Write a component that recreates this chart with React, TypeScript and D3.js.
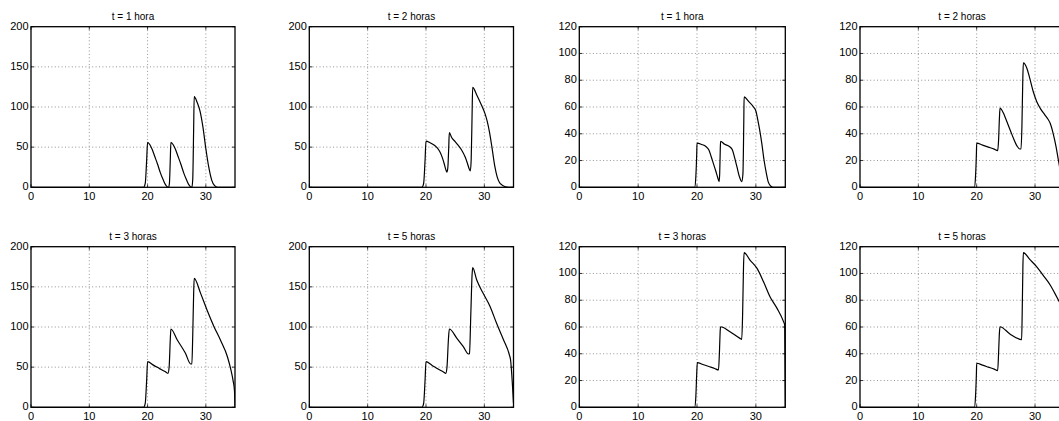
import React from "react";
import * as d3 from "d3";

// ---- Data ----
const xTicks = [0, 10, 20, 30];
const yTicksA = [0, 50, 100, 150, 200];
const yTicksB = [0, 20, 40, 60, 80, 100, 120];
const titles = ["t = 1 hora", "t = 2 horas", "t = 1 hora", "t = 2 horas", "t = 3 horas", "t = 5 horas", "t = 3 horas", "t = 5 horas"];

const seriesA1: [number, number][] = [
  [0, 0], [19.3, 0], [19.6, 5], [19.85, 35], [20, 56], [20.4, 53], [20.8, 47], [21.2, 39], [21.7, 29], [22.2, 18], [22.7, 9], [23.1, 3], [23.4, 0.5], [23.6, 0],
  [23.75, 5], [23.9, 35], [24, 56], [24.4, 53], [24.8, 47], [25.2, 39], [25.7, 29], [26.2, 18], [26.7, 9], [27.1, 3], [27.4, 0.5], [27.6, 0],
  [27.75, 10], [27.9, 70], [28, 113], [28.5, 106], [29, 95], [29.5, 75], [30, 48], [30.5, 25], [31, 9], [31.5, 2], [32, 0], [35, 0],
];
const seriesA2: [number, number][] = [
  [0, 0], [19.3, 0], [19.6, 5], [19.85, 35], [20, 57.5], [20.7, 55.5], [21.5, 52], [22, 48.5], [22.4, 44], [22.8, 37], [23.1, 30], [23.4, 22], [23.6, 19],
  [23.75, 25], [23.9, 50], [24, 68], [24.4, 62], [25, 57], [25.5, 52.5], [26.1, 46.5], [26.7, 38], [27.1, 30], [27.4, 23], [27.6, 20.5],
  [27.75, 35], [27.9, 90], [28, 124.5], [28.7, 115], [29.5, 102.5], [30.1, 92], [30.5, 82], [30.9, 68], [31.3, 50], [31.8, 26], [32.2, 13], [32.6, 6], [33, 3], [33.5, 1], [34.2, 0], [35, 0],
];
const seriesA3: [number, number][] = [
  [0, 0], [19.3, 0], [19.6, 5], [19.85, 35], [20, 56.8], [21, 52.5], [22, 48.5], [23, 44.5], [23.5, 42.3],
  [23.7, 50], [23.9, 85], [24, 97.5], [25.1, 83.8], [26.5, 67.2], [27.4, 53.9], [27.6, 54],
  [27.75, 90], [27.9, 140], [28, 160.6], [29.1, 141.9], [30.2, 121.2], [31.4, 100.4], [32.5, 83.8], [33.7, 63], [34.3, 46.5], [34.7, 32], [34.9, 21.6], [35, 0],
];
const seriesA5: [number, number][] = [
  [0, 0], [19.3, 0], [19.6, 5], [19.85, 35], [20, 56.8], [21, 52.5], [22, 48], [23, 44], [23.4, 42.3],
  [23.6, 50], [23.85, 85], [24, 97.5], [25.3, 85.9], [26.4, 75.5], [27.3, 66.4], [27.45, 67],
  [27.7, 120], [27.9, 165], [28, 173.9], [28.7, 158.5], [29.8, 141.9], [31, 125.3], [32.1, 104.6], [33.3, 83.8], [34.3, 65.1], [34.5, 58.9], [34.8, 30], [35, 5],
];
const seriesB1: [number, number][] = [
  [0, 0], [19.6, 0], [19.8, 8], [19.95, 25], [20, 33], [20.8, 32], [21.5, 30.5], [22, 28], [22.4, 23], [22.8, 17.5], [23.2, 12], [23.5, 7.5], [23.75, 4.3],
  [23.85, 10], [23.95, 28], [24, 34.4], [24.7, 32.1], [25.5, 30.5], [26, 28], [26.4, 22], [26.8, 15], [27.2, 8], [27.6, 4.3],
  [27.8, 10], [27.95, 50], [28, 67.5], [28.8, 64], [29.6, 60], [30, 57], [30.3, 51], [30.6, 44], [31, 33], [31.4, 20], [31.8, 10], [32.1, 4], [32.5, 1], [33, 0], [35, 0],
];
const seriesB2: [number, number][] = [
  [0, 0], [19.6, 0], [19.8, 8], [19.95, 25], [20, 33], [21, 31.5], [22, 30], [23, 28.5], [23.6, 27.4],
  [23.75, 35], [23.9, 52], [24, 59.2], [24.6, 55.3], [25, 51], [25.4, 46.6], [25.9, 41], [26.3, 36.6], [26.9, 31], [27.4, 28.6], [27.6, 28.6],
  [27.75, 45], [27.9, 80], [28, 93], [28.6, 89], [29.1, 81.4], [29.7, 71.4], [30.3, 64], [30.9, 59], [31.7, 54], [32.2, 51], [32.6, 47.8], [33.1, 40.3], [33.6, 30.4], [34, 20.4], [34.4, 11], [34.8, 4], [35, 2],
];
const seriesB3: [number, number][] = [
  [0, 0], [19.6, 0], [19.8, 8], [19.95, 25], [20.05, 33.4], [21, 32], [22, 30.5], [23, 29], [23.65, 27.9],
  [23.8, 40], [23.95, 58], [24, 60.2], [25.6, 56.5], [27.3, 51.5], [27.6, 50.8],
  [27.75, 70], [27.9, 105], [28, 115.5], [29, 110], [30.2, 103.8], [31.3, 93.8], [32.4, 82.6], [33.6, 73.9], [34.7, 64], [34.9, 61.5], [35, 0],
];
const seriesB5: [number, number][] = [
  [0, 0], [19.6, 0], [19.8, 8], [19.95, 25], [20, 32.9], [21, 31.5], [22, 30], [23, 28.5], [23.6, 27.4],
  [23.75, 40], [23.9, 56], [24, 60.2], [25.7, 54.8], [27.4, 50.8], [27.7, 50.5],
  [27.8, 70], [27.92, 105], [28, 115.5], [29.1, 110.5], [30.3, 105], [31.4, 98.6], [32.6, 91.4], [33.4, 85.1], [34, 80.2], [34.5, 76], [35, 71],
];

// ---- Layout ----
const W = 1059;
const H = 421;
const colLeft = [31, 309.3, 579.3, 860];
const colWidth = [204, 204.2, 206, 204.2];
const rowTop = [26.7, 246.7];
const panelH = 160.6;

type PanelDef = { title: string; data: [number, number][]; yMax: number; yTicks: number[]; col: number; row: number };

const panels: PanelDef[] = [
  { title: titles[0], data: seriesA1, yMax: 200, yTicks: yTicksA, col: 0, row: 0 },
  { title: titles[1], data: seriesA2, yMax: 200, yTicks: yTicksA, col: 1, row: 0 },
  { title: titles[2], data: seriesB1, yMax: 120, yTicks: yTicksB, col: 2, row: 0 },
  { title: titles[3], data: seriesB2, yMax: 120, yTicks: yTicksB, col: 3, row: 0 },
  { title: titles[4], data: seriesA3, yMax: 200, yTicks: yTicksA, col: 0, row: 1 },
  { title: titles[5], data: seriesA5, yMax: 200, yTicks: yTicksA, col: 1, row: 1 },
  { title: titles[6], data: seriesB3, yMax: 120, yTicks: yTicksB, col: 2, row: 1 },
  { title: titles[7], data: seriesB5, yMax: 120, yTicks: yTicksB, col: 3, row: 1 },
];

const FONT = "'Liberation Sans', Arial, Helvetica, sans-serif";

function Panel({ p, idx }: { p: PanelDef; idx: number }) {
  const x0 = colLeft[p.col];
  const w = colWidth[p.col];
  const y0 = rowTop[p.row];
  const x = d3.scaleLinear().domain([0, 35]).range([x0, x0 + w]);
  const y = d3.scaleLinear().domain([0, p.yMax]).range([y0 + panelH, y0]);
  const line = d3
    .line<[number, number]>()
    .x((d) => x(d[0]))
    .y((d) => y(d[1]))
    .curve(d3.curveMonotoneX);
  const clipId = `clip-${idx}`;
  const tickLen = 3;
  return (
    <g>
      <defs>
        <clipPath id={clipId}>
          <rect x={x0} y={y0 - 1} width={w} height={panelH + 2} />
        </clipPath>
      </defs>
      <rect x={x0} y={y0} width={w} height={panelH} fill="#fff" />
      {/* grid */}
      {xTicks.filter((t) => t > 0).map((t) => (
        <line key={`gx${t}`} x1={x(t)} x2={x(t)} y1={y0} y2={y0 + panelH} stroke="#666" strokeWidth={0.7} strokeDasharray="1,2.4" />
      ))}
      {p.yTicks.filter((t) => t > 0 && t < p.yMax).map((t) => (
        <line key={`gy${t}`} x1={x0} x2={x0 + w} y1={y(t)} y2={y(t)} stroke="#666" strokeWidth={0.7} strokeDasharray="1,2.4" />
      ))}
      {/* ticks */}
      {xTicks.map((t) => (
        <g key={`tx${t}`}>
          <line x1={x(t)} x2={x(t)} y1={y0 + panelH} y2={y0 + panelH - tickLen} stroke="#000" strokeWidth={0.8} />
          <line x1={x(t)} x2={x(t)} y1={y0} y2={y0 + tickLen} stroke="#000" strokeWidth={0.8} />
          <text x={x(t)} y={y0 + panelH + 12.8} textAnchor="middle" fontSize={11} fontFamily={FONT} fill="#000">
            {t}
          </text>
        </g>
      ))}
      {p.yTicks.map((t) => (
        <g key={`ty${t}`}>
          <line x1={x0} x2={x0 + tickLen} y1={y(t)} y2={y(t)} stroke="#000" strokeWidth={0.8} />
          <line x1={x0 + w} x2={x0 + w - tickLen} y1={y(t)} y2={y(t)} stroke="#000" strokeWidth={0.8} />
          <text x={x0 - 2.5} y={y(t) + 3} textAnchor="end" fontSize={11} fontFamily={FONT} fill="#000">
            {t}
          </text>
        </g>
      ))}
      {/* curve */}
      <path d={line(p.data) || ""} fill="none" stroke="#000" strokeWidth={1.2} clipPath={`url(#${clipId})`} />
      {/* frame */}
      <rect x={x0} y={y0} width={w} height={panelH} fill="none" stroke="#000" strokeWidth={1.3} />
      <text x={x0 + w / 2} y={y0 - 7} textAnchor="middle" fontSize={10} fontFamily={FONT} fill="#000">
        {p.title}
      </text>
    </g>
  );
}

export default function App() {
  return (
    <svg
      width={W}
      height={H}
      viewBox={`0 0 ${W} ${H}`}
      style={{ position: "fixed", left: 0, top: 0, background: "#fff", display: "block" }}
    >
      <rect x={0} y={0} width={W} height={H} fill="#fff" />
      {panels.map((p, i) => (
        <Panel key={i} p={p} idx={i} />
      ))}
    </svg>
  );
}
